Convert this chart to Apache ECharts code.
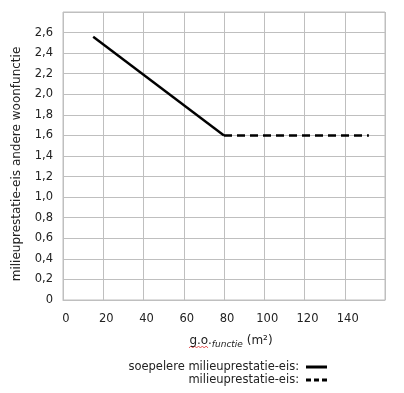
<!DOCTYPE html>
<html><head><meta charset="utf-8">
<script src="https://cdn.jsdelivr.net/npm/echarts@6/dist/echarts.min.js"></script>
<style>html,body{margin:0;padding:0;background:#fff}#c{width:404px;height:393px}</style>
</head><body><div id="c"></div>
<script>
const xTicks = [0, 20, 40, 60, 80, 100, 120, 140, 160];
const soepelX = [15, 80];
const soepelY = [2.56, 1.6];
const eisX = [80, 152];
const eisY = [1.6, 1.6];
const seriesNames = ['soepelere milieuprestatie-eis:', 'milieuprestatie-eis:'];

const font = "'DejaVu Sans', Verdana, sans-serif";
const fs = 11.5;
const wavy = [];
for (let i = 0; i <= 10; i++) wavy.push([189 + i * 1.9, 347 + (i % 2 ? -1 : 1)]);
const chart = echarts.init(document.getElementById('c'), null, {renderer: 'canvas'});
chart.setOption({
  animation: false,
  backgroundColor: '#fff',
  grid: {left: 63, right: 19, top: 12, bottom: 93, show: true, borderColor: '#bfbfbf', borderWidth: 1},
  xAxis: {
    type: 'value', min: xTicks[0], max: xTicks[xTicks.length - 1], interval: 20,
    axisLine: {show: true, lineStyle: {color: '#bfbfbf'}},
    axisTick: {show: false},
    splitLine: {show: true, lineStyle: {color: '#bfbfbf'}},
    axisLabel: {color: '#222', fontFamily: font, fontSize: fs, margin: 13, padding: [0, 0, 0, 6],
      formatter: v => v === 160 ? '' : String(v)},
    name: '{a|g.o.}{s|functie}{a| (m²)}',
    nameLocation: 'middle', nameGap: 32,
    nameTextStyle: {padding: [0, 0, 0, 14], rich: {
      a: {fontFamily: font, fontSize: 12, color: '#222'},
      s: {fontFamily: font, fontSize: 9, fontStyle: 'italic', color: '#222', padding: [8, 0, 0, 0]}
    }}
  },
  yAxis: {
    type: 'value', min: 0, max: 2.8, interval: 0.2,
    axisLine: {show: false}, axisTick: {show: false},
    splitLine: {show: true, lineStyle: {color: '#bfbfbf'}},
    axisLabel: {color: '#222', fontFamily: font, fontSize: fs, margin: 10,
      formatter: v => {
        if (Math.abs(v - 2.8) < 1e-6) return '';
        if (v === 0) return '0';
        return v.toFixed(1).replace('.', ',');
      }},
    name: 'milieuprestatie-eis andere woonfunctie',
    nameLocation: 'middle', nameGap: 40,
    nameTextStyle: {fontFamily: font, fontSize: 12, color: '#222', padding: [0, 16, 0, 0]}
  },
  legend: [
    {data: [{name: seriesNames[0], icon: 'rect'}], right: 77, top: 361, align: 'right',
      itemWidth: 21, itemHeight: 3, itemGap: 0, padding: 0,
      textStyle: {fontFamily: font, fontSize: fs, color: '#222', padding: [0, 2, 0, 0]}},
    {data: [{name: seriesNames[1], icon: 'path://M0,0H5V3H0Z M8,0H13V3H8Z M16,0H21V3H16Z'}], right: 77, top: 374, align: 'right',
      itemWidth: 21, itemHeight: 3, itemGap: 0, padding: 0,
      textStyle: {fontFamily: font, fontSize: fs, color: '#222', padding: [0, 2, 0, 0]}}
  ],
  graphic: [{type: 'polyline', silent: true, shape: {points: wavy},
    style: {stroke: '#e03030', lineWidth: 0.8, fill: null}}],
  series: [
    {name: seriesNames[0], type: 'line', symbol: 'none', color: '#000',
      lineStyle: {color: '#000', width: 2.4},
      data: soepelX.map((x, i) => [x, soepelY[i]])},
    {name: seriesNames[1], type: 'line', symbol: 'none', color: '#000',
      lineStyle: {color: '#000', width: 2.4, type: [8, 5]},
      data: eisX.map((x, i) => [x, eisY[i]])}
  ]
});
</script></body></html>
